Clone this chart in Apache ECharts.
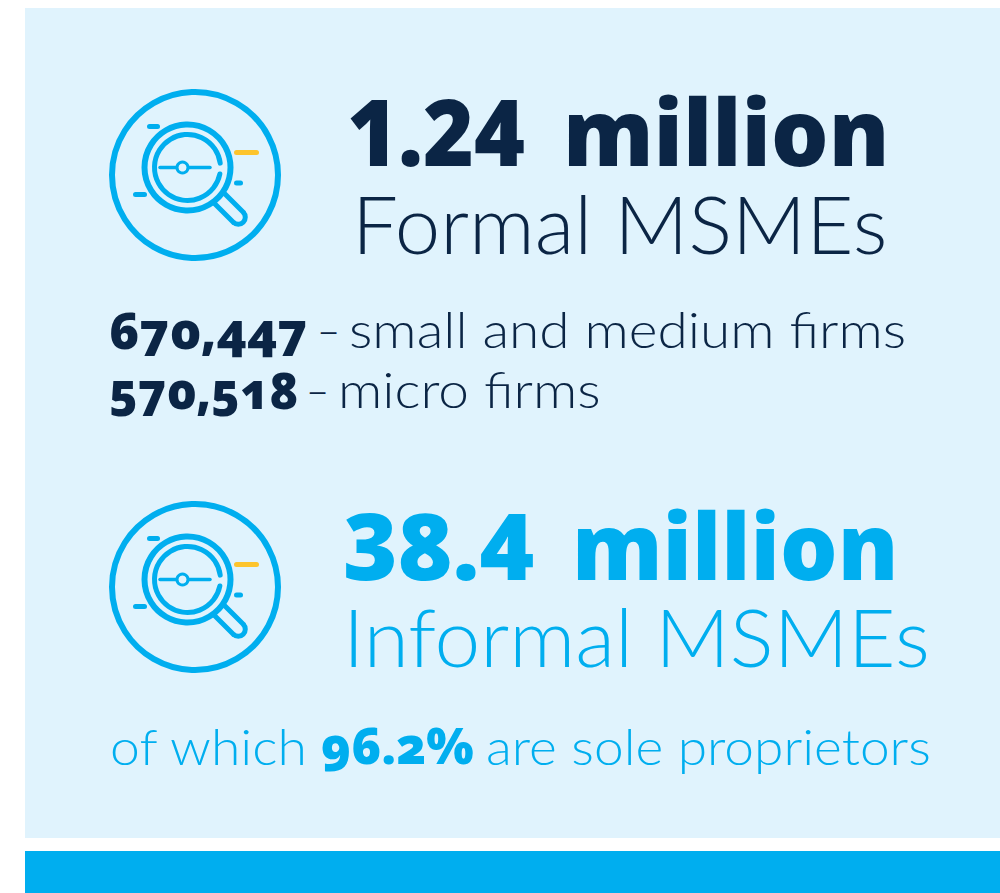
<!DOCTYPE html>
<html>
<head>
<meta charset="utf-8" />
<title>MSMEs</title>
<style>
  html, body { margin: 0; padding: 0; background: #fff; }
  #chart { width: 1000px; height: 893px; }
</style>
</head>
<body>
<div id="chart"></div>
<script src="https://cdn.jsdelivr.net/npm/echarts@6/dist/echarts.min.js"></script>
<script>
var formalTotal = ["1.24", "million"];
var formalLabel = "Formal MSMEs";
var breakdownValues = ["670,447", "570,518"];
var breakdownDash = "–";
var breakdownLabels = ["small and medium firms", "micro firms"];
var informalTotal = ["38.4", "million"];
var informalLabel = "Informal MSMEs";
var soleParts = ["of which", "96.2%", "are sole proprietors"];

var navy = "#0b2545";
var blue = "#00aeef";
var yellow = "#fdc42d";
var panel = "#e0f3fd";
var lightFont = "Lato";
var heavyFont = "Noto Sans";

// sx stretches the run to the reference width
function txt(str, x, y, size, heavy, color, sx) {
  return {
    type: "text",
    x: x,
    y: y,
    scaleX: sx || 1,
    style: {
      text: str,
      fontFamily: heavy ? heavyFont : lightFont,
      fontSize: size,
      fontWeight: heavy ? 900 : 300,
      fill: color,
      verticalAlign: "bottom"
    }
  };
}

function ln(x1, y1, x2, y2, color, w) {
  return {
    type: "line",
    shape: { x1: x1, y1: y1, x2: x2, y2: y2 },
    style: { stroke: color, lineWidth: w, lineCap: "round" }
  };
}

// magnifier icon, drawn around the middle of the big ring
function icon(cx, cy) {
  var noFill = { fill: "none", stroke: blue, lineWidth: 6 };
  return {
    type: "group",
    x: cx,
    y: cy,
    children: [
      { type: "circle", shape: { r: 83 }, style: noFill },
      { type: "circle", shape: { cx: -7.5, cy: -7.5, r: 43 }, style: noFill },
      {
        type: "arc",
        shape: { cx: -7.5, cy: -7.5, r: 33, startAngle: 0.2, endAngle: 6.15 },
        style: { fill: "none", stroke: blue, lineWidth: 5, lineCap: "round" }
      },
      ln(-35, -7.5, 15, -7.5, blue, 3.5),
      {
        type: "circle",
        shape: { cx: -12.5, cy: -7.5, r: 5.5 },
        style: { fill: panel, stroke: blue, lineWidth: 3 }
      },
      // handle
      ln(30, 19, 48.3, 37.3, blue, 5),
      ln(18, 27, 38.3, 47.3, blue, 5),
      {
        type: "arc",
        shape: { cx: 43.3, cy: 42.3, r: 7, startAngle: -Math.PI / 4, endAngle: Math.PI * 3 / 4, clockwise: true },
        style: { fill: "none", stroke: blue, lineWidth: 5 }
      },
      ln(-45.5, -48.5, -37.5, -48.5, blue, 5),
      ln(41.5, -22.5, 61.5, -22.5, yellow, 5),
      ln(41.5, 8, 45.5, 8, blue, 5),
      ln(-59.5, 19.5, -50.5, 19.5, blue, 5)
    ]
  };
}

var myChart = echarts.init(document.getElementById("chart"), null, { renderer: "svg" });
myChart.setOption({
  animation: false,
  graphic: {
    elements: [
      { type: "rect", shape: { x: 25, y: 8, width: 975, height: 830 }, style: { fill: panel } },
      { type: "rect", shape: { x: 25, y: 851, width: 975, height: 42 }, style: { fill: blue } },
      icon(195, 175),
      icon(195, 587),
      txt(formalTotal[0], 347, 176, 92, true, navy, 0.945),
      txt(formalTotal[1], 563, 176, 92, true, navy, 0.985),
      txt(formalLabel, 352, 263, 80, false, navy, 1.02),
      txt(breakdownValues[0], 109, 355, 50, true, navy, 1.01),
      txt(breakdownDash, 317, 353, 50, false, navy, 0.8),
      txt(breakdownLabels[0], 349, 353, 50, false, navy, 1.1),
      txt(breakdownValues[1], 109, 415, 50, true, navy, 0.96),
      txt(breakdownDash, 306, 413, 50, false, navy, 0.8),
      txt(breakdownLabels[1], 338, 413, 50, false, navy, 1.1),
      txt(informalTotal[0], 343, 590, 92, true, blue, 1.015),
      txt(informalTotal[1], 572, 590, 92, true, blue, 0.985),
      txt(informalLabel, 343, 676, 80, false, blue, 1.025),
      txt(soleParts[0], 110, 771, 50, false, blue, 1.07),
      txt(soleParts[1], 321, 770, 50, true, blue),
      txt(soleParts[2], 486, 771, 50, false, blue, 1.065)
    ]
  }
});

// old-style figures only on the smaller bold numbers, big totals keep lining figures
var oldStyle = breakdownValues.concat([soleParts[1]]);
document.querySelectorAll("#chart text").forEach(function (t) {
  if (oldStyle.indexOf(t.textContent) >= 0) {
    t.style.fontVariantNumeric = "oldstyle-nums";
    t.style.fontFeatureSettings = '"onum" 1';
  }
});
</script>
</body>
</html>
